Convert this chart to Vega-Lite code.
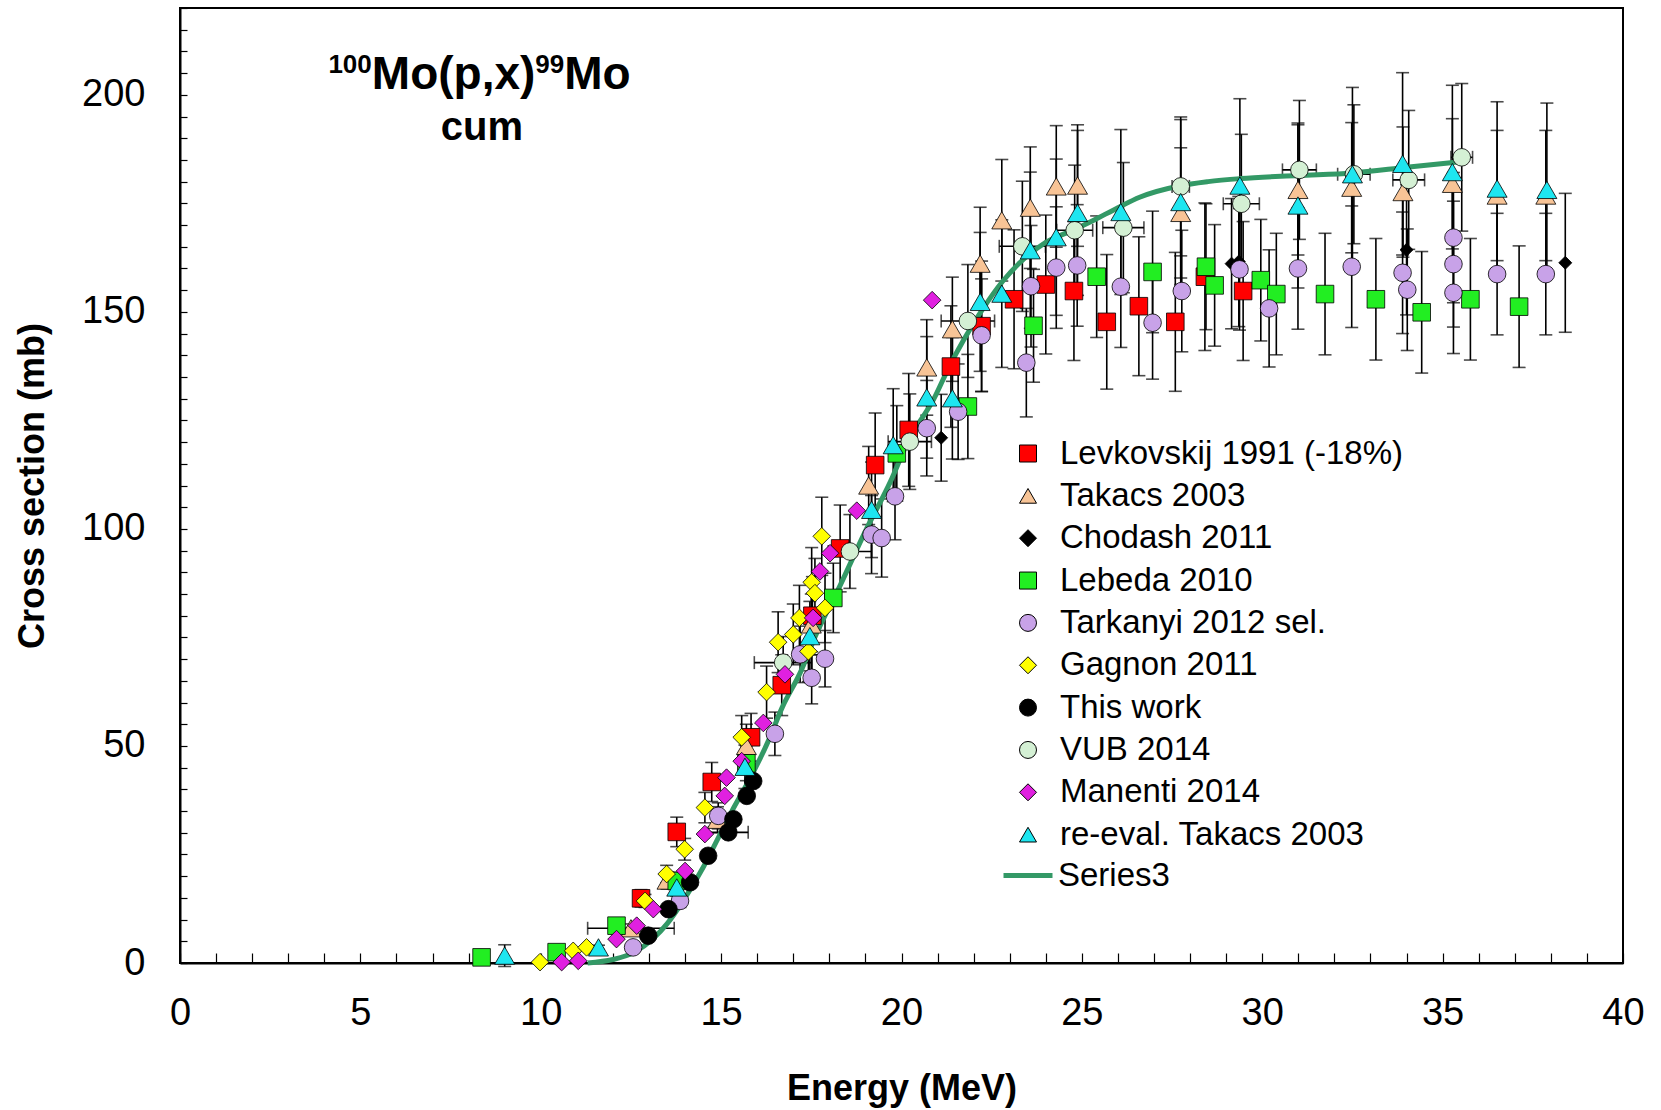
{
  "$schema": "https://vega.github.io/schema/vega-lite/v6.json",
  "width": 1443,
  "height": 955,
  "autosize": "none",
  "padding": {"left": 180, "top": 8, "right": 38, "bottom": 147},
  "background": "white",
  "config": {
    "font": "Liberation Sans",
    "view": {"stroke": "black", "strokeWidth": 2},
    "axisX": {
      "labelOverlap": false, "labelFlush": false, "grid": false,
      "domainColor": "black", "domainWidth": 2,
      "tickColor": "black", "tickWidth": 1.2, "tickSize": -10,
      "labelFontSize": 38, "labelColor": "black", "labelPadding": 41,
      "titleFontSize": 36, "titleFontWeight": "bold", "titleColor": "black", "titlePadding": 39.5
    },
    "axisY": {
      "labelOverlap": false, "labelFlush": false, "grid": false,
      "domainColor": "black", "domainWidth": 2,
      "tickColor": "black", "tickWidth": 1.2, "tickSize": -7,
      "labelFontSize": 38, "labelColor": "black", "labelPadding": 42,
      "titleFontSize": 36, "titleFontWeight": "bold", "titleColor": "black", "titlePadding": 30
    }
  },
  "datasets": {
    "fit": [
      {"E": 11.3, "s": 0}, {"E": 12.0, "s": 0.8}, {"E": 12.6, "s": 2.5}, {"E": 13.1, "s": 5.5}, {"E": 13.5, "s": 9},
      {"E": 14.0, "s": 15}, {"E": 14.5, "s": 22}, {"E": 14.9, "s": 28.5}, {"E": 15.3, "s": 35}, {"E": 15.8, "s": 42.5},
      {"E": 16.3, "s": 51}, {"E": 16.7, "s": 59}, {"E": 17.2, "s": 67}, {"E": 17.65, "s": 76}, {"E": 18.3, "s": 87},
      {"E": 19.0, "s": 99.5}, {"E": 19.7, "s": 111}, {"E": 20.2, "s": 120.5}, {"E": 20.9, "s": 130}, {"E": 21.3, "s": 137},
      {"E": 22.2, "s": 150}, {"E": 22.8, "s": 157}, {"E": 23.3, "s": 161.5}, {"E": 24.0, "s": 166}, {"E": 24.8, "s": 169},
      {"E": 25.3, "s": 171}, {"E": 26.0, "s": 174}, {"E": 26.6, "s": 176.4}, {"E": 27.7, "s": 179}, {"E": 28.5, "s": 180},
      {"E": 29.4, "s": 180.7}, {"E": 31.0, "s": 181.4}, {"E": 32.5, "s": 182}, {"E": 34.0, "s": 183.3}, {"E": 35.4, "s": 184.5}
    ],
    "pts": [
      {"series": "Levkovskij 1991 (-18%)", "E": 12.78, "s": 14.9, "e": 2},
      {"series": "Levkovskij 1991 (-18%)", "E": 13.77, "s": 30.2, "e": 3.4},
      {"series": "Levkovskij 1991 (-18%)", "E": 14.74, "s": 41.7, "e": 4.5},
      {"series": "Levkovskij 1991 (-18%)", "E": 15.83, "s": 52, "e": 5.5},
      {"series": "Levkovskij 1991 (-18%)", "E": 16.68, "s": 64, "e": 7},
      {"series": "Levkovskij 1991 (-18%)", "E": 17.53, "s": 80, "e": 9},
      {"series": "Levkovskij 1991 (-18%)", "E": 18.3, "s": 95.5, "e": 10},
      {"series": "Levkovskij 1991 (-18%)", "E": 19.27, "s": 114.7, "e": 12},
      {"series": "Levkovskij 1991 (-18%)", "E": 20.2, "s": 122.8, "e": 13},
      {"series": "Levkovskij 1991 (-18%)", "E": 21.37, "s": 137.4, "e": 14},
      {"series": "Levkovskij 1991 (-18%)", "E": 22.22, "s": 146.7, "e": 15},
      {"series": "Levkovskij 1991 (-18%)", "E": 23.12, "s": 152.9, "e": 16},
      {"series": "Levkovskij 1991 (-18%)", "E": 24.0, "s": 156.3, "e": 16},
      {"series": "Levkovskij 1991 (-18%)", "E": 24.78, "s": 154.8, "e": 16},
      {"series": "Levkovskij 1991 (-18%)", "E": 25.69, "s": 147.7, "e": 15.5},
      {"series": "Levkovskij 1991 (-18%)", "E": 26.58, "s": 151.3, "e": 16},
      {"series": "Levkovskij 1991 (-18%)", "E": 27.59, "s": 147.7, "e": 16},
      {"series": "Levkovskij 1991 (-18%)", "E": 28.41, "s": 158.1, "e": 17},
      {"series": "Levkovskij 1991 (-18%)", "E": 29.47, "s": 154.8, "e": 16},

      {"series": "Takacs 2003", "E": 12.5, "s": 8, "e": 1, "xe": 1.2},
      {"series": "Takacs 2003", "E": 13.5, "s": 19, "e": 2},
      {"series": "Takacs 2003", "E": 14.9, "s": 33, "e": 3},
      {"series": "Takacs 2003", "E": 15.7, "s": 50, "e": 5},
      {"series": "Takacs 2003", "E": 17.5, "s": 78, "e": 7},
      {"series": "Takacs 2003", "E": 19.09, "s": 110, "e": 9},
      {"series": "Takacs 2003", "E": 20.7, "s": 137.2, "e": 11},
      {"series": "Takacs 2003", "E": 21.41, "s": 146, "e": 12},
      {"series": "Takacs 2003", "E": 22.18, "s": 161.1, "e": 13},
      {"series": "Takacs 2003", "E": 22.78, "s": 171.1, "e": 14},
      {"series": "Takacs 2003", "E": 23.57, "s": 174, "e": 14},
      {"series": "Takacs 2003", "E": 24.29, "s": 178.9, "e": 14},
      {"series": "Takacs 2003", "E": 24.88, "s": 179.1, "e": 14},
      {"series": "Takacs 2003", "E": 27.74, "s": 172.8, "e": 15},
      {"series": "Takacs 2003", "E": 30.99, "s": 178.1, "e": 15},
      {"series": "Takacs 2003", "E": 32.48, "s": 178.6, "e": 15},
      {"series": "Takacs 2003", "E": 33.9, "s": 177.6, "e": 15},
      {"series": "Takacs 2003", "E": 35.27, "s": 179.5, "e": 15},
      {"series": "Takacs 2003", "E": 36.51, "s": 176.8, "e": 15},
      {"series": "Takacs 2003", "E": 37.86, "s": 176.8, "e": 15},

      {"series": "Chodash 2011", "E": 21.1, "s": 121, "e": 10},
      {"series": "Chodash 2011", "E": 29.15, "s": 161.1, "e": 15},
      {"series": "Chodash 2011", "E": 29.35, "s": 161.6, "e": 15},
      {"series": "Chodash 2011", "E": 34.0, "s": 164.3, "e": 15},
      {"series": "Chodash 2011", "E": 38.4, "s": 161.3, "e": 16},

      {"series": "Lebeda 2010", "E": 8.36, "s": 1.3},
      {"series": "Lebeda 2010", "E": 10.44, "s": 2.5},
      {"series": "Lebeda 2010", "E": 12.1, "s": 8.6, "e": 1},
      {"series": "Lebeda 2010", "E": 13.77, "s": 18.9, "e": 2},
      {"series": "Lebeda 2010", "E": 15.7, "s": 46, "e": 4},
      {"series": "Lebeda 2010", "E": 18.11, "s": 84.1, "e": 8},
      {"series": "Lebeda 2010", "E": 19.87, "s": 117.4, "e": 11},
      {"series": "Lebeda 2010", "E": 21.84, "s": 128.2, "e": 12},
      {"series": "Lebeda 2010", "E": 23.66, "s": 146.8, "e": 13},
      {"series": "Lebeda 2010", "E": 25.41, "s": 158.1, "e": 14},
      {"series": "Lebeda 2010", "E": 26.96, "s": 159.2, "e": 14},
      {"series": "Lebeda 2010", "E": 28.44, "s": 160.4, "e": 14.5},
      {"series": "Lebeda 2010", "E": 28.68, "s": 156.1, "e": 14},
      {"series": "Lebeda 2010", "E": 29.96, "s": 157.3, "e": 14},
      {"series": "Lebeda 2010", "E": 30.39, "s": 154.1, "e": 14},
      {"series": "Lebeda 2010", "E": 31.74, "s": 154.1, "e": 14},
      {"series": "Lebeda 2010", "E": 33.15, "s": 152.9, "e": 14},
      {"series": "Lebeda 2010", "E": 34.42, "s": 149.9, "e": 14},
      {"series": "Lebeda 2010", "E": 35.77, "s": 152.9, "e": 14},
      {"series": "Lebeda 2010", "E": 37.12, "s": 151.2, "e": 14},

      {"series": "Tarkanyi 2012 sel.", "E": 12.56, "s": 3.6, "e": 0.5},
      {"series": "Tarkanyi 2012 sel.", "E": 13.86, "s": 14.3, "e": 1.5},
      {"series": "Tarkanyi 2012 sel.", "E": 14.92, "s": 33.9, "e": 3},
      {"series": "Tarkanyi 2012 sel.", "E": 16.49, "s": 52.8, "e": 5},
      {"series": "Tarkanyi 2012 sel.", "E": 17.19, "s": 71.1, "e": 6.5},
      {"series": "Tarkanyi 2012 sel.", "E": 17.51, "s": 65.7, "e": 6},
      {"series": "Tarkanyi 2012 sel.", "E": 17.88, "s": 70.1, "e": 6.5},
      {"series": "Tarkanyi 2012 sel.", "E": 19.17, "s": 98.7, "e": 9},
      {"series": "Tarkanyi 2012 sel.", "E": 19.45, "s": 97.9, "e": 9},
      {"series": "Tarkanyi 2012 sel.", "E": 19.82, "s": 107.5, "e": 10},
      {"series": "Tarkanyi 2012 sel.", "E": 20.7, "s": 123.2, "e": 11},
      {"series": "Tarkanyi 2012 sel.", "E": 21.57, "s": 127, "e": 11},
      {"series": "Tarkanyi 2012 sel.", "E": 22.22, "s": 144.6, "e": 13},
      {"series": "Tarkanyi 2012 sel.", "E": 23.46, "s": 138.3, "e": 12.5},
      {"series": "Tarkanyi 2012 sel.", "E": 23.59, "s": 155.9, "e": 14},
      {"series": "Tarkanyi 2012 sel.", "E": 24.29, "s": 160.2, "e": 14},
      {"series": "Tarkanyi 2012 sel.", "E": 24.87, "s": 160.7, "e": 14},
      {"series": "Tarkanyi 2012 sel.", "E": 26.08, "s": 155.8, "e": 14},
      {"series": "Tarkanyi 2012 sel.", "E": 26.96, "s": 147.5, "e": 13},
      {"series": "Tarkanyi 2012 sel.", "E": 27.77, "s": 154.8, "e": 14},
      {"series": "Tarkanyi 2012 sel.", "E": 29.37, "s": 159.8, "e": 14},
      {"series": "Tarkanyi 2012 sel.", "E": 30.19, "s": 150.8, "e": 13.5},
      {"series": "Tarkanyi 2012 sel.", "E": 30.99, "s": 160, "e": 14},
      {"series": "Tarkanyi 2012 sel.", "E": 32.48, "s": 160.4, "e": 14},
      {"series": "Tarkanyi 2012 sel.", "E": 33.89, "s": 159, "e": 14},
      {"series": "Tarkanyi 2012 sel.", "E": 34.02, "s": 155.1, "e": 14},
      {"series": "Tarkanyi 2012 sel.", "E": 35.3, "s": 167.1, "e": 15},
      {"series": "Tarkanyi 2012 sel.", "E": 35.3, "s": 161, "e": 14.5},
      {"series": "Tarkanyi 2012 sel.", "E": 35.3, "s": 154.4, "e": 14},
      {"series": "Tarkanyi 2012 sel.", "E": 36.51, "s": 158.7, "e": 14},
      {"series": "Tarkanyi 2012 sel.", "E": 37.86, "s": 158.7, "e": 14},

      {"series": "Gagnon 2011", "E": 9.98, "s": 0.2},
      {"series": "Gagnon 2011", "E": 10.9, "s": 2.8},
      {"series": "Gagnon 2011", "E": 11.27, "s": 3.6},
      {"series": "Gagnon 2011", "E": 12.89, "s": 14.3, "e": 1.5},
      {"series": "Gagnon 2011", "E": 13.49, "s": 20.5, "e": 2},
      {"series": "Gagnon 2011", "E": 13.99, "s": 26.2, "e": 2.5},
      {"series": "Gagnon 2011", "E": 14.55, "s": 35.8, "e": 3.5},
      {"series": "Gagnon 2011", "E": 15.57, "s": 52, "e": 5},
      {"series": "Gagnon 2011", "E": 16.26, "s": 62.4, "e": 6},
      {"series": "Gagnon 2011", "E": 16.58, "s": 73.9, "e": 7},
      {"series": "Gagnon 2011", "E": 17.0, "s": 75.7, "e": 7},
      {"series": "Gagnon 2011", "E": 17.17, "s": 79.5, "e": 7.5},
      {"series": "Gagnon 2011", "E": 17.42, "s": 71.8, "e": 7},
      {"series": "Gagnon 2011", "E": 17.51, "s": 87.7, "e": 8},
      {"series": "Gagnon 2011", "E": 17.6, "s": 85.2, "e": 8},
      {"series": "Gagnon 2011", "E": 17.88, "s": 81.8, "e": 8},
      {"series": "Gagnon 2011", "E": 17.79, "s": 98.3, "e": 9},

      {"series": "This work", "E": 12.98, "s": 6.3},
      {"series": "This work", "E": 13.54, "s": 12.4},
      {"series": "This work", "E": 14.14, "s": 18.6},
      {"series": "This work", "E": 14.64, "s": 24.7},
      {"series": "This work", "E": 15.2, "s": 30.1, "xe": 0.55},
      {"series": "This work", "E": 15.34, "s": 33.1},
      {"series": "This work", "E": 15.71, "s": 38.5},
      {"series": "This work", "E": 15.89, "s": 41.9},

      {"series": "VUB 2014", "E": 16.72, "s": 69.2, "e": 6, "xe": 0.8},
      {"series": "VUB 2014", "E": 18.57, "s": 94.8, "e": 8.5, "xe": 0.6},
      {"series": "VUB 2014", "E": 20.23, "s": 120.1, "e": 11, "xe": 0.6},
      {"series": "VUB 2014", "E": 21.84, "s": 147.9, "e": 13, "xe": 0.74},
      {"series": "VUB 2014", "E": 23.35, "s": 165.1, "e": 15, "xe": 0.64},
      {"series": "VUB 2014", "E": 24.8, "s": 168.8, "e": 15, "xe": 0.5},
      {"series": "VUB 2014", "E": 26.15, "s": 169.4, "e": 15, "xe": 0.57},
      {"series": "VUB 2014", "E": 27.74, "s": 178.9, "e": 16, "xe": 0.24},
      {"series": "VUB 2014", "E": 29.42, "s": 174.9, "e": 16, "xe": 0.5},
      {"series": "VUB 2014", "E": 31.03, "s": 182.7, "e": 16, "xe": 0.47},
      {"series": "VUB 2014", "E": 32.54, "s": 181.7, "e": 16, "xe": 0.45},
      {"series": "VUB 2014", "E": 34.06, "s": 180.4, "e": 16, "xe": 0.44},
      {"series": "VUB 2014", "E": 35.53, "s": 185.6, "e": 17, "xe": 0.3},

      {"series": "Manenti 2014", "E": 10.58, "s": 0.2},
      {"series": "Manenti 2014", "E": 11.04, "s": 0.5},
      {"series": "Manenti 2014", "E": 12.1, "s": 5.5},
      {"series": "Manenti 2014", "E": 12.66, "s": 8.6},
      {"series": "Manenti 2014", "E": 13.12, "s": 12.4},
      {"series": "Manenti 2014", "E": 14.0, "s": 21.2},
      {"series": "Manenti 2014", "E": 14.55, "s": 29.7},
      {"series": "Manenti 2014", "E": 15.1, "s": 38.5},
      {"series": "Manenti 2014", "E": 15.15, "s": 42.7},
      {"series": "Manenti 2014", "E": 15.57, "s": 46.5},
      {"series": "Manenti 2014", "E": 16.17, "s": 55.3},
      {"series": "Manenti 2014", "E": 16.77, "s": 66.5},
      {"series": "Manenti 2014", "E": 17.55, "s": 79.5},
      {"series": "Manenti 2014", "E": 17.74, "s": 90.2},
      {"series": "Manenti 2014", "E": 18.02, "s": 94.4},
      {"series": "Manenti 2014", "E": 18.76, "s": 104.2},
      {"series": "Manenti 2014", "E": 20.85, "s": 152.7},

      {"series": "re-eval. Takacs 2003", "E": 9.0, "s": 1.7, "e": 2.5},
      {"series": "re-eval. Takacs 2003", "E": 11.6, "s": 3.6, "e": 0.5},
      {"series": "re-eval. Takacs 2003", "E": 13.77, "s": 17.4, "e": 2},
      {"series": "re-eval. Takacs 2003", "E": 15.66, "s": 45.2, "e": 5},
      {"series": "re-eval. Takacs 2003", "E": 17.46, "s": 75.3, "e": 8},
      {"series": "re-eval. Takacs 2003", "E": 19.17, "s": 104.4, "e": 11},
      {"series": "re-eval. Takacs 2003", "E": 19.77, "s": 119.3, "e": 13},
      {"series": "re-eval. Takacs 2003", "E": 20.7, "s": 130.3, "e": 14},
      {"series": "re-eval. Takacs 2003", "E": 21.41, "s": 130.1, "e": 14},
      {"series": "re-eval. Takacs 2003", "E": 22.18, "s": 152.3, "e": 16},
      {"series": "re-eval. Takacs 2003", "E": 22.78, "s": 154.2, "e": 17},
      {"series": "re-eval. Takacs 2003", "E": 23.57, "s": 164.2, "e": 18},
      {"series": "re-eval. Takacs 2003", "E": 24.29, "s": 167.2, "e": 18},
      {"series": "re-eval. Takacs 2003", "E": 24.88, "s": 172.8, "e": 19},
      {"series": "re-eval. Takacs 2003", "E": 26.08, "s": 173, "e": 19},
      {"series": "re-eval. Takacs 2003", "E": 27.74, "s": 175.3, "e": 19},
      {"series": "re-eval. Takacs 2003", "E": 29.38, "s": 179.1, "e": 20},
      {"series": "re-eval. Takacs 2003", "E": 30.99, "s": 174.5, "e": 19},
      {"series": "re-eval. Takacs 2003", "E": 32.5, "s": 181.7, "e": 20},
      {"series": "re-eval. Takacs 2003", "E": 33.89, "s": 184.1, "e": 21},
      {"series": "re-eval. Takacs 2003", "E": 35.27, "s": 182.2, "e": 20},
      {"series": "re-eval. Takacs 2003", "E": 36.51, "s": 178.4, "e": 20},
      {"series": "re-eval. Takacs 2003", "E": 37.89, "s": 178.1, "e": 20}
    ]
  },
  "layer": [
    {
      "data": {"name": "pts"},
      "transform": [{"filter": "isValid(datum.e)"}],
      "mark": {"type": "errorbar", "color": "black", "thickness": 1.6, "ticks": {"size": 13, "thickness": 1.6, "color": "black"}},
      "encoding": {
        "x": {"field": "E", "type": "quantitative", "scale": {"domain": [0, 40], "nice": false, "zero": false},
          "axis": {"title": "Energy (MeV)", "values": [0,1,2,3,4,5,6,7,8,9,10,11,12,13,14,15,16,17,18,19,20,21,22,23,24,25,26,27,28,29,30,31,32,33,34,35,36,37,38,39,40], "labelExpr": "datum.value % 5 === 0 ? datum.label : ''"}},
        "y": {"field": "s", "type": "quantitative", "scale": {"domain": [0, 220], "nice": false},
          "axis": {"title": "Cross section (mb)", "values": [0,5,10,15,20,25,30,35,40,45,50,55,60,65,70,75,80,85,90,95,100,105,110,115,120,125,130,135,140,145,150,155,160,165,170,175,180,185,190,195,200,205,210,215,220], "labelExpr": "datum.value % 50 === 0 ? datum.label : ''"}},
        "yError": {"field": "e"}
      }
    },
    {
      "data": {"name": "pts"},
      "transform": [{"filter": "isValid(datum.xe)"}],
      "mark": {"type": "errorbar", "color": "black", "thickness": 1.6, "ticks": {"size": 13, "thickness": 1.6, "color": "black"}},
      "encoding": {
        "x": {"field": "E", "type": "quantitative", "scale": {"domain": [0, 40], "nice": false, "zero": false},
          "axis": {"title": "Energy (MeV)", "values": [0,1,2,3,4,5,6,7,8,9,10,11,12,13,14,15,16,17,18,19,20,21,22,23,24,25,26,27,28,29,30,31,32,33,34,35,36,37,38,39,40], "labelExpr": "datum.value % 5 === 0 ? datum.label : ''"}},
        "y": {"field": "s", "type": "quantitative", "scale": {"domain": [0, 220], "nice": false},
          "axis": {"title": "Cross section (mb)", "values": [0,5,10,15,20,25,30,35,40,45,50,55,60,65,70,75,80,85,90,95,100,105,110,115,120,125,130,135,140,145,150,155,160,165,170,175,180,185,190,195,200,205,210,215,220], "labelExpr": "datum.value % 50 === 0 ? datum.label : ''"}},
        "xError": {"field": "xe"}
      }
    },
    {
      "data": {"name": "fit"},
      "mark": {"type": "line", "strokeWidth": 5, "interpolate": "monotone"},
      "encoding": {
        "x": {"field": "E", "type": "quantitative", "scale": {"domain": [0, 40], "nice": false, "zero": false},
          "axis": {"title": "Energy (MeV)", "values": [0,1,2,3,4,5,6,7,8,9,10,11,12,13,14,15,16,17,18,19,20,21,22,23,24,25,26,27,28,29,30,31,32,33,34,35,36,37,38,39,40], "labelExpr": "datum.value % 5 === 0 ? datum.label : ''"}},
        "y": {"field": "s", "type": "quantitative", "scale": {"domain": [0, 220], "nice": false},
          "axis": {"title": "Cross section (mb)", "values": [0,5,10,15,20,25,30,35,40,45,50,55,60,65,70,75,80,85,90,95,100,105,110,115,120,125,130,135,140,145,150,155,160,165,170,175,180,185,190,195,200,205,210,215,220], "labelExpr": "datum.value % 50 === 0 ? datum.label : ''"}},
        "stroke": {
          "datum": "Series3", "type": "nominal",
          "scale": {"domain": ["Series3"], "range": ["#339966"]},
          "legend": {
            "title": null, "orient": "none", "legendX": 821, "legendY": 840.5, "padding": 0,
            "symbolType": "stroke", "symbolSize": 2400, "symbolStrokeWidth": 5,
            "labelFontSize": 33, "labelColor": "black", "labelOffset": 3, "labelLimit": 0
          }
        }
      }
    },
    {
      "data": {"name": "pts"},
      "mark": {"type": "point", "filled": true, "stroke": "black", "strokeWidth": 0.8, "opacity": 1},
      "encoding": {
        "x": {"field": "E", "type": "quantitative", "scale": {"domain": [0, 40], "nice": false, "zero": false},
          "axis": {"title": "Energy (MeV)", "values": [0,1,2,3,4,5,6,7,8,9,10,11,12,13,14,15,16,17,18,19,20,21,22,23,24,25,26,27,28,29,30,31,32,33,34,35,36,37,38,39,40], "labelExpr": "datum.value % 5 === 0 ? datum.label : ''"}},
        "y": {"field": "s", "type": "quantitative", "scale": {"domain": [0, 220], "nice": false},
          "axis": {"title": "Cross section (mb)", "values": [0,5,10,15,20,25,30,35,40,45,50,55,60,65,70,75,80,85,90,95,100,105,110,115,120,125,130,135,140,145,150,155,160,165,170,175,180,185,190,195,200,205,210,215,220], "labelExpr": "datum.value % 50 === 0 ? datum.label : ''"}},
        "color": {
          "field": "series", "type": "nominal",
          "scale": {
            "domain": ["Levkovskij 1991 (-18%)", "Takacs 2003", "Chodash 2011", "Lebeda 2010", "Tarkanyi 2012 sel.", "Gagnon 2011", "This work", "VUB 2014", "Manenti 2014", "re-eval. Takacs 2003"],
            "range": ["#FF0000", "#F8C496", "#000000", "#22EE22", "#C8A2E8", "#FFFF00", "#000000", "#D4F0D4", "#E020E0", "#1EE6F0"]
          },
          "legend": {
            "title": null, "orient": "none", "legendX": 831.5, "legendY": 429, "padding": 0,
            "symbolSize": 289, "symbolStrokeWidth": 1, "symbolStrokeColor": "black",
            "labelFontSize": 33, "labelColor": "black", "labelOffset": 15.5, "labelLimit": 0, "rowPadding": 8.35
          }
        },
        "shape": {
          "field": "series", "type": "nominal",
          "scale": {
            "domain": ["Levkovskij 1991 (-18%)", "Takacs 2003", "Chodash 2011", "Lebeda 2010", "Tarkanyi 2012 sel.", "Gagnon 2011", "This work", "VUB 2014", "Manenti 2014", "re-eval. Takacs 2003"],
            "range": ["square", "triangle-up", "diamond", "square", "circle", "diamond", "circle", "circle", "diamond", "triangle-up"]
          },
          "legend": {"title": null, "orient": "none", "legendX": 831.5, "legendY": 429}
        },
        "size": {
          "condition": [
            {"test": "datum.series === 'Chodash 2011'", "value": 170},
            {"test": "indexof(datum.series, 'Takacs') >= 0", "value": 400}
          ],
          "value": 310
        }
      }
    },
    {
      "data": {"values": [{"t": "100"}]},
      "mark": {"type": "text", "fontWeight": "bold", "fontSize": 26, "align": "left", "baseline": "alphabetic", "color": "black"},
      "encoding": {
        "x": {"datum": 4.114, "type": "quantitative", "scale": {"domain": [0, 40], "nice": false, "zero": false},
          "axis": {"title": "Energy (MeV)", "values": [0,1,2,3,4,5,6,7,8,9,10,11,12,13,14,15,16,17,18,19,20,21,22,23,24,25,26,27,28,29,30,31,32,33,34,35,36,37,38,39,40], "labelExpr": "datum.value % 5 === 0 ? datum.label : ''"}},
        "y": {"datum": 205.0, "type": "quantitative", "scale": {"domain": [0, 220], "nice": false},
          "axis": {"title": "Cross section (mb)", "values": [0,5,10,15,20,25,30,35,40,45,50,55,60,65,70,75,80,85,90,95,100,105,110,115,120,125,130,135,140,145,150,155,160,165,170,175,180,185,190,195,200,205,210,215,220], "labelExpr": "datum.value % 50 === 0 ? datum.label : ''"}},
        "text": {"field": "t"}
      }
    },
    {
      "data": {"values": [{"t": "Mo(p,x)"}]},
      "mark": {"type": "text", "fontWeight": "bold", "fontSize": 46, "align": "left", "baseline": "alphabetic", "color": "black"},
      "encoding": {
        "x": {"datum": 5.318, "type": "quantitative", "scale": {"domain": [0, 40], "nice": false, "zero": false},
          "axis": {"title": "Energy (MeV)", "values": [0,1,2,3,4,5,6,7,8,9,10,11,12,13,14,15,16,17,18,19,20,21,22,23,24,25,26,27,28,29,30,31,32,33,34,35,36,37,38,39,40], "labelExpr": "datum.value % 5 === 0 ? datum.label : ''"}},
        "y": {"datum": 201.4, "type": "quantitative", "scale": {"domain": [0, 220], "nice": false},
          "axis": {"title": "Cross section (mb)", "values": [0,5,10,15,20,25,30,35,40,45,50,55,60,65,70,75,80,85,90,95,100,105,110,115,120,125,130,135,140,145,150,155,160,165,170,175,180,185,190,195,200,205,210,215,220], "labelExpr": "datum.value % 50 === 0 ? datum.label : ''"}},
        "text": {"field": "t"}
      }
    },
    {
      "data": {"values": [{"t": "99"}]},
      "mark": {"type": "text", "fontWeight": "bold", "fontSize": 26, "align": "left", "baseline": "alphabetic", "color": "black"},
      "encoding": {
        "x": {"datum": 9.85, "type": "quantitative", "scale": {"domain": [0, 40], "nice": false, "zero": false},
          "axis": {"title": "Energy (MeV)", "values": [0,1,2,3,4,5,6,7,8,9,10,11,12,13,14,15,16,17,18,19,20,21,22,23,24,25,26,27,28,29,30,31,32,33,34,35,36,37,38,39,40], "labelExpr": "datum.value % 5 === 0 ? datum.label : ''"}},
        "y": {"datum": 205.0, "type": "quantitative", "scale": {"domain": [0, 220], "nice": false},
          "axis": {"title": "Cross section (mb)", "values": [0,5,10,15,20,25,30,35,40,45,50,55,60,65,70,75,80,85,90,95,100,105,110,115,120,125,130,135,140,145,150,155,160,165,170,175,180,185,190,195,200,205,210,215,220], "labelExpr": "datum.value % 50 === 0 ? datum.label : ''"}},
        "text": {"field": "t"}
      }
    },
    {
      "data": {"values": [{"t": "Mo"}]},
      "mark": {"type": "text", "fontWeight": "bold", "fontSize": 46, "align": "left", "baseline": "alphabetic", "color": "black"},
      "encoding": {
        "x": {"datum": 10.652, "type": "quantitative", "scale": {"domain": [0, 40], "nice": false, "zero": false},
          "axis": {"title": "Energy (MeV)", "values": [0,1,2,3,4,5,6,7,8,9,10,11,12,13,14,15,16,17,18,19,20,21,22,23,24,25,26,27,28,29,30,31,32,33,34,35,36,37,38,39,40], "labelExpr": "datum.value % 5 === 0 ? datum.label : ''"}},
        "y": {"datum": 201.4, "type": "quantitative", "scale": {"domain": [0, 220], "nice": false},
          "axis": {"title": "Cross section (mb)", "values": [0,5,10,15,20,25,30,35,40,45,50,55,60,65,70,75,80,85,90,95,100,105,110,115,120,125,130,135,140,145,150,155,160,165,170,175,180,185,190,195,200,205,210,215,220], "labelExpr": "datum.value % 50 === 0 ? datum.label : ''"}},
        "text": {"field": "t"}
      }
    },
    {
      "data": {"values": [{"t": "cum"}]},
      "mark": {"type": "text", "fontWeight": "bold", "fontSize": 40, "align": "center", "baseline": "alphabetic", "color": "black"},
      "encoding": {
        "x": {"datum": 8.37, "type": "quantitative", "scale": {"domain": [0, 40], "nice": false, "zero": false},
          "axis": {"title": "Energy (MeV)", "values": [0,1,2,3,4,5,6,7,8,9,10,11,12,13,14,15,16,17,18,19,20,21,22,23,24,25,26,27,28,29,30,31,32,33,34,35,36,37,38,39,40], "labelExpr": "datum.value % 5 === 0 ? datum.label : ''"}},
        "y": {"datum": 189.5, "type": "quantitative", "scale": {"domain": [0, 220], "nice": false},
          "axis": {"title": "Cross section (mb)", "values": [0,5,10,15,20,25,30,35,40,45,50,55,60,65,70,75,80,85,90,95,100,105,110,115,120,125,130,135,140,145,150,155,160,165,170,175,180,185,190,195,200,205,210,215,220], "labelExpr": "datum.value % 50 === 0 ? datum.label : ''"}},
        "text": {"field": "t"}
      }
    }
  ]
}
